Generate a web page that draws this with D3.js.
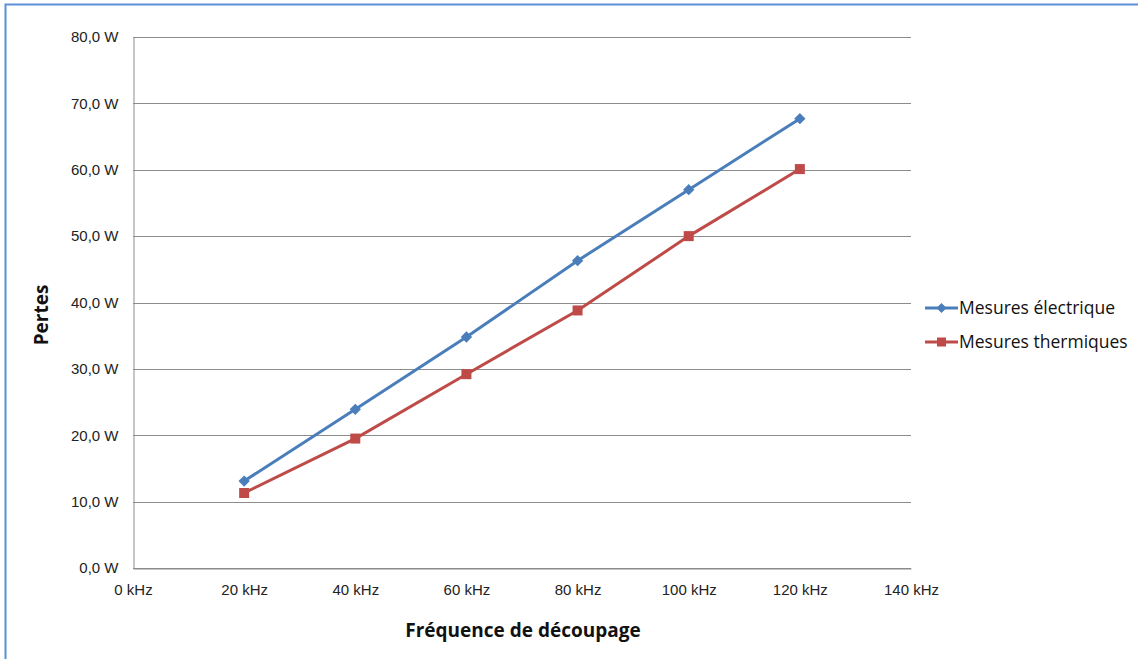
<!DOCTYPE html>
<html><head><meta charset="utf-8">
<script src="https://cdn.jsdelivr.net/npm/d3@7"></script>
<style>body{margin:0;background:#fff;} svg{display:block;font-family:"Open Sans","Noto Sans",sans-serif;}</style>
</head><body><svg id="c" width="1138" height="659"></svg>
<script>
const frequencies = [20, 40, 60, 80, 100, 120];
const electrique = [13.1, 23.9, 34.8, 46.3, 57.0, 67.7];
const thermique = [11.3, 19.5, 29.2, 38.8, 50.0, 60.1];
const seriesNames = ["Mesures électrique", "Mesures thermiques"];
const xTicks = [0, 20, 40, 60, 80, 100, 120, 140];
const yTicks = [0, 10, 20, 30, 40, 50, 60, 70, 80];

const svg = d3.select("#c");
svg.append("rect").attr("x",5.5).attr("y",4.5).attr("width",1140).attr("height",700)
  .attr("fill","#fff").attr("stroke","#5b8fd6").attr("stroke-width",2);

const x = d3.scaleLinear().domain([0,140]).range([133,911]);
const y = d3.scaleLinear().domain([0,80]).range([568,37]);
const fmtY = d => d.toFixed(1).replace(".", ",") + " W";

svg.append("g").selectAll("line").data(yTicks).join("line")
  .attr("x1",x(0)).attr("x2",x(140)).attr("y1",d=>Math.round(y(d))+0.5).attr("y2",d=>Math.round(y(d))+0.5)
  .attr("stroke","#8c8c8c").attr("stroke-width",1);

const yAxis = svg.append("g").attr("transform",`translate(${x(0)+0.5},0)`)
  .call(d3.axisLeft(y).tickValues(yTicks).tickFormat(fmtY).tickSize(0).tickPadding(15));
yAxis.select(".domain").attr("stroke","#8c8c8c");
yAxis.selectAll("text").attr("font-size",15).attr("fill","#222");

const xAxis = svg.append("g").attr("transform",`translate(0,${Math.round(y(0))+0.5})`)
  .call(d3.axisBottom(x).tickValues(xTicks).tickFormat(d=>d+" kHz").tickSize(0).tickPadding(16));
xAxis.select(".domain").attr("stroke","#8c8c8c");
xAxis.selectAll("text").attr("font-size",15).attr("fill","#222");

svg.append("text").attr("x",523).attr("y",637).attr("text-anchor","middle")
  .attr("font-size",19).attr("font-weight","bold").attr("fill","#111").text("Fréquence de découpage");
svg.append("text").attr("transform","translate(48,315) rotate(-90)").attr("text-anchor","middle")
  .attr("font-size",19).attr("font-weight","bold").attr("fill","#111").text("Pertes");

const line = d3.line().x((d,i)=>x(frequencies[i])).y(d=>y(d));
const blue = "#4a7ebb", red = "#be4b48";

svg.append("path").datum(electrique).attr("d",line).attr("fill","none").attr("stroke",blue).attr("stroke-width",3);
svg.append("path").datum(thermique).attr("d",line).attr("fill","none").attr("stroke",red).attr("stroke-width",3);

svg.append("g").selectAll("path").data(electrique).join("path")
  .attr("transform",(d,i)=>`translate(${x(frequencies[i])},${y(d)}) rotate(45)`)
  .attr("d","M-4,-4H4V4H-4Z").attr("fill",blue);
svg.append("g").selectAll("rect").data(thermique).join("rect")
  .attr("x",(d,i)=>x(frequencies[i])-5).attr("y",d=>y(d)-5).attr("width",10).attr("height",10).attr("fill",red);

const lg = svg.append("g");
[[blue,0],[red,1]].forEach(([c,i])=>{
  const ly = 308 + i*34;
  lg.append("line").attr("x1",925).attr("x2",958).attr("y1",ly).attr("y2",ly).attr("stroke",c).attr("stroke-width",3);
  if(i===0) lg.append("path").attr("transform",`translate(941.5,${ly}) rotate(45)`).attr("d","M-3.5,-3.5H3.5V3.5H-3.5Z").attr("fill",c);
  else lg.append("rect").attr("x",937).attr("y",ly-4.5).attr("width",9).attr("height",9).attr("fill",c);
  lg.append("text").attr("x",959).attr("y",ly+6).attr("font-size",17.5).attr("fill","#111").text(seriesNames[i]);
});
</script></body></html>
